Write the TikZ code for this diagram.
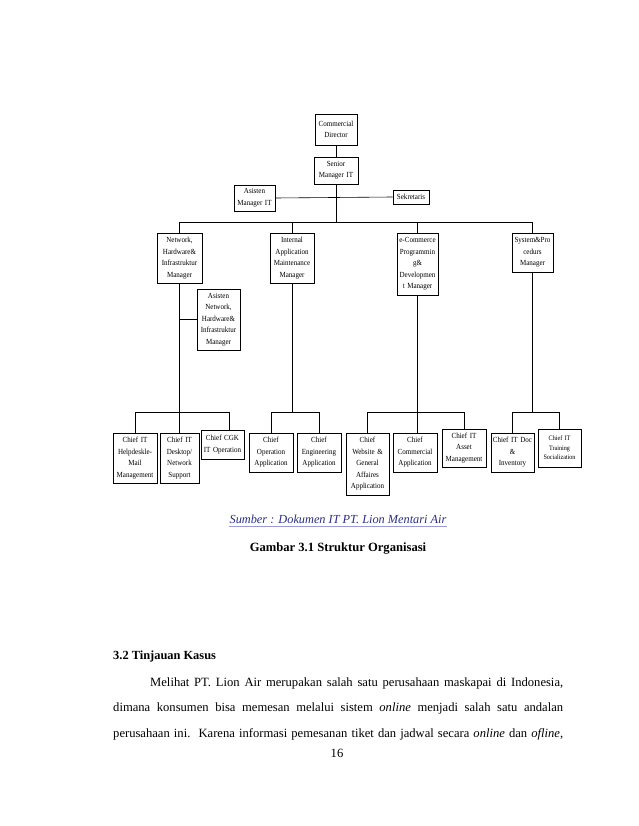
\documentclass[tikz,border=0pt]{standalone}
\usepackage{fontspec}
\setmainfont{Liberation Serif}
\newfontfamily\diagfont[FakeStretch=0.9]{Liberation Serif}
\usetikzlibrary{calc}
\definecolor{srcblue}{HTML}{2B2E83}
\definecolor{ulblue}{HTML}{9A9BD8}
\begin{document}
\begin{tikzpicture}[x=1pt,y=-1pt,
  box/.style={draw, line width=0.6pt, inner sep=0pt, align=center,
    font=\diagfont\fontsize{7.8}{11.5}\selectfont},
  smallbox/.style={box, font=\diagfont\fontsize{6.8}{9.6}\selectfont},
  conn/.style={line width=0.6pt},
  body/.style={inner sep=0pt, font=\fontsize{12.6}{14}\selectfont}]
\useasboundingbox (0,0) rectangle (638,826);
\fill[white] (0,0) rectangle (638,826);

% top
\node[box, minimum width=42pt, minimum height=31pt, text width=42pt] (CD) at (336,129.5) {Commercial\\Director};
\node[box, minimum width=44pt, minimum height=27pt, text width=44pt] (SM) at (336,170.5) {Senior\\Manager IT};
\node[box, minimum width=41pt, minimum height=26pt, text width=41pt] (AM) at (254.5,198) {Asisten\\Manager IT};
\node[box, minimum width=36pt, minimum height=14pt, text width=36pt] (SK) at (411,197) {Sekretaris};

% managers
\node[box, minimum width=45pt, minimum height=50pt, text width=45pt] (NW) at (179.5,258) {Network,\\Hardware\&\\Infrastruktur\\Manager};
\node[box, minimum width=44pt, minimum height=50pt, text width=44pt] (IA) at (292,258) {Internal\\Application\\Maintenance\\Manager};
\node[box, minimum width=41pt, minimum height=62pt, text width=41pt] (EC) at (417.5,264) {e-Commerce\\Programmin\\g\&\\Developmen\\t Manager};
\node[box, minimum width=41pt, minimum height=39pt, text width=41pt] (SP) at (532.5,252.5) {System\&Pro\\cedurs\\Manager};
\node[box, minimum width=43pt, minimum height=61pt, text width=43pt] (AN) at (218.5,319.5) {Asisten\\Network,\\Hardware\&\\Infrastruktur\\Manager};

% chiefs
\node[box, minimum width=44pt, minimum height=50pt, text width=44pt] (HD) at (135,458) {Chief IT\\Helpdeskle-\\Mail\\Management};
\node[box, minimum width=39pt, minimum height=50pt, text width=39pt] (DT) at (179.5,458) {Chief IT\\Desktop/\\Network\\Support};
\node[box, minimum width=43pt, minimum height=29pt, text width=43pt] (CG) at (222.5,444.5) {Chief CGK\\IT Operation};
\node[box, minimum width=44pt, minimum height=39pt, text width=44pt] (OA) at (271,452.5) {Chief\\Operation\\Application};
\node[box, minimum width=44pt, minimum height=39pt, text width=44pt] (EA) at (319,452.5) {Chief\\Engineering\\Application};
\node[box, minimum width=43pt, minimum height=62pt, text width=43pt] (WG) at (367.5,464) {Chief\\Website \&\\General\\Affaires\\Application};
\node[box, minimum width=44pt, minimum height=39pt, text width=44pt] (CA) at (415,452.5) {Chief\\Commercial\\Application};
\node[box, minimum width=44pt, minimum height=38pt, text width=44pt] (AS) at (464,448) {Chief IT\\Asset\\Management};
\node[box, minimum width=43pt, minimum height=39pt, text width=43pt] (DI) at (512.5,452.5) {Chief IT Doc\\\&\\Inventory};
\node[smallbox, minimum width=43pt, minimum height=38pt, text width=43pt] (TS) at (559.5,448) {Chief IT\\Training\\Socialization};

% connectors
\coordinate (bus) at (336,222);
\draw[conn] (CD) -- (SM);
\draw[conn] (SM.south) -- (bus);
\draw[conn] (AM.east) -- (SK.west);
\draw[conn] (NW.north) |- (SP.north |- bus) -- (SP.north);
\draw[conn] (IA.north) -- (IA.north |- bus);
\draw[conn] (EC.north) -- (EC.north |- bus);

\coordinate (b1) at (229,412);
\draw[conn] (NW.south) -- (DT.north);
\draw[conn] (AN.west) -- (AN.west -| NW.south);
\draw[conn] (HD.north) |- (b1) -- (b1 |- CG.north);

\draw[conn] (IA.south) -- (IA.south |- b1);
\draw[conn] (OA.north) |- (EA.north |- b1) -- (EA.north);

\draw[conn] (EC.south) -- (EC.south |- CA.north);
\draw[conn] (WG.north) |- (AS.north |- b1) -- (AS.north);

\draw[conn] (SP.south) -- (SP.south |- b1);
\draw[conn] (DI.north) |- (TS.north |- b1) -- (TS.north);

% captions
\node[inner sep=0pt, anchor=base, text=srcblue, font=\fontsize{12.3}{14}\selectfont\itshape] (SRC) at (338,523) {Sumber : Dokumen IT PT. Lion Mentari Air};
\draw[ulblue, line width=0.8pt] ([yshift=-3pt]SRC.base west) -- ([yshift=-3pt]SRC.base east);
\node[inner sep=0pt, anchor=base, font=\fontsize{12.6}{14}\selectfont\bfseries] (CAP) at (338,551) {Gambar 3.1 Struktur Organisasi};

% text
\node[inner sep=0pt, anchor=base west, font=\fontsize{12.4}{14}\selectfont\bfseries] (H) at (113,659) {3.2 Tinjauan Kasus};
\node[body, anchor=base west] (L1) at (150,686) {\hbox to 413pt{Melihat PT. Lion Air merupakan salah satu perusahaan maskapai di Indonesia,}};
\node[body, anchor=base west] (L2) at (113,711) {\hbox to 450pt{dimana konsumen bisa memesan melalui sistem \textit{online} menjadi salah satu andalan}};
\node[body, anchor=base west] (L3) at (113,737) {\hbox to 450pt{perusahaan ini.\ \ Karena informasi pemesanan tiket dan jadwal secara \textit{online} dan \textit{ofline},}};
\node[inner sep=0pt, anchor=base, font=\fontsize{12.6}{14}\selectfont] (PG) at (337,757) {16};
\end{tikzpicture}
\end{document}
